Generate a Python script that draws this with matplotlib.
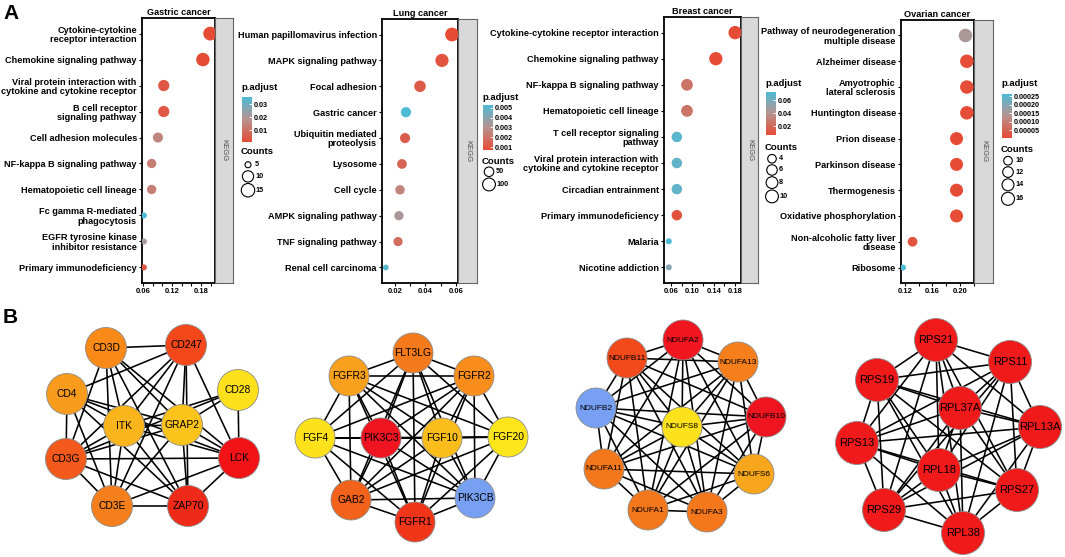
import numpy as np
import matplotlib
matplotlib.use('Agg')
import matplotlib.pyplot as plt
from matplotlib.colors import LinearSegmentedColormap, Normalize
from matplotlib.cm import ScalarMappable
from matplotlib.patches import Circle
from itertools import combinations

plt.rcParams['font.family'] = ['Liberation Sans', 'DejaVu Sans']
W, H = 1065, 557
PT = 0.72  # points per pixel at dpi 100

# ---------------- A: KEGG enrichment data ----------------
gastric_terms = ['Cytokine-cytokine\nreceptor interaction', 'Chemokine signaling pathway',
                 'Viral protein interaction with\ncytokine and cytokine receptor',
                 'B cell receptor\nsignaling pathway', 'Cell adhesion molecules',
                 'NF-kappa B signaling pathway', 'Hematopoietic cell lineage',
                 'Fc gamma R-mediated\nphagocytosis', 'EGFR tyrosine kinase\ninhibitor resistance',
                 'Primary immunodeficiency']
gastric_ratio = [0.199, 0.184, 0.103, 0.103, 0.091, 0.078, 0.078, 0.062, 0.062, 0.062]
gastric_count = [16, 15, 10, 10, 8, 7, 7, 5, 5, 5]
gastric_padj = [0.0008, 0.0012, 0.004, 0.004, 0.015, 0.013, 0.013, 0.0354, 0.021, 0.004]

lung_terms = ['Human papillomavirus infection', 'MAPK signaling pathway', 'Focal adhesion',
              'Gastric cancer', 'Ubiquitin mediated\nproteolysis', 'Lysosome', 'Cell cycle',
              'AMPK signaling pathway', 'TNF signaling pathway', 'Renal cell carcinoma']
lung_ratio = [0.0574, 0.0508, 0.0364, 0.0272, 0.0266, 0.0246, 0.0233, 0.0226, 0.0220, 0.0140]
lung_count = [120, 107, 76, 57, 56, 52, 49, 47, 46, 30]
lung_padj = [0.0007, 0.0010, 0.0012, 0.0053, 0.0013, 0.0015, 0.0025, 0.0033, 0.0018, 0.0050]

breast_terms = ['Cytokine-cytokine receptor interaction', 'Chemokine signaling pathway',
                'NF-kappa B signaling pathway', 'Hematopoietic cell lineage',
                'T cell receptor signaling\npathway',
                'Viral protein interaction with\ncytokine and cytokine receptor',
                'Circadian entrainment', 'Primary immunodeficiency', 'Malaria', 'Nicotine addiction']
breast_ratio = [0.180, 0.144, 0.090, 0.090, 0.071, 0.071, 0.071, 0.071, 0.056, 0.056]
breast_count = [11, 11, 8, 8, 6, 6, 6, 6, 3, 3]
breast_padj = [0.0062, 0.007, 0.025, 0.025, 0.068, 0.066, 0.066, 0.009, 0.0723, 0.055]

ovarian_terms = ['Pathway of neurodegeneration\nmultiple disease', 'Alzheimer disease',
                 'Amyotrophic\nlateral sclerosis', 'Huntington disease', 'Prion disease',
                 'Parkinson disease', 'Thermogenesis', 'Oxidative phosphorylation',
                 'Non-alcoholic fatty liver\ndisease', 'Ribosome']
ovarian_ratio = [0.208, 0.210, 0.210, 0.210, 0.195, 0.195, 0.195, 0.195, 0.131, 0.117]
ovarian_count = [17, 17, 17, 17, 16, 16, 16, 16, 11, 9]
ovarian_padj = [0.00015, 0.00001, 0.00001, 0.00001, 0.000005, 0.000006, 0.000008, 0.000007,
                0.00002, 0.000262]

# ---------------- B: PPI hub networks ----------------
gastric_nodes = ['CD3D', 'CD247', 'CD4', 'CD28', 'ITK', 'GRAP2', 'CD3G', 'LCK', 'CD3E', 'ZAP70']
gastric_node_col = ['#F98A17', '#F4471A', '#F99B1C', '#FCE01B', '#FBB51C', '#FCC31A',
                    '#F2591A', '#F21317', '#F47F1B', '#F02A19']
gastric_missing = [('CD3D', 'CD4'), ('CD3D', 'CD28'), ('CD4', 'CD28'), ('CD247', 'CD28'),
                   ('CD28', 'CD3E'), ('CD28', 'ZAP70')]

lung_nodes = ['FLT3LG', 'FGFR3', 'FGFR2', 'FGF4', 'PIK3C3', 'FGF10', 'FGF20', 'GAB2', 'PIK3CB', 'FGFR1']
lung_node_col = ['#F47A1B', '#F9A11C', '#F98D1B', '#FCE11B', '#EE1420', '#FBBD1B',
                 '#FCE51B', '#F2621A', '#77A0F2', '#F03519']
lung_missing = []

breast_nodes = ['NDUFA2', 'NDUFB11', 'NDUFA13', 'NDUFB2', 'NDUFB10', 'NDUFS8', 'NDUFA11',
                'NDUFS6', 'NDUFA1', 'NDUFA3']
breast_node_col = ['#EF1620', '#F24A1A', '#F67F1C', '#77A0F2', '#EE1520', '#FCE11B',
                   '#F4781B', '#F8A61C', '#F4781B', '#F4781B']
breast_missing = []

ovarian_nodes = ['RPS21', 'RPS11', 'RPS19', 'RPL37A', 'RPL13A', 'RPS13', 'RPL18', 'RPS27',
                 'RPS29', 'RPL38']
ovarian_node_col = ['#F01A1A'] * 10
ovarian_missing = []

# node layout (pixel positions of the figure, Cytoscape-style arrangement)
layout = {
    'gastric': [(106, 348), (186, 345), (67, 394), (238, 390), (124, 426), (182, 425),
                (66, 459), (239, 458), (112, 506), (188, 506)],
    'lung': [(413, 353), (349, 376), (474, 376), (315, 438), (381, 438), (442, 438),
             (508, 437), (351, 500), (475, 498), (415, 522)],
    'breast': [(683, 340), (627, 358), (738, 362), (596, 408), (766, 417), (682, 427),
               (604, 469), (754, 474), (648, 510), (707, 512)],
    'ovarian': [(936, 340), (1010, 362), (877, 380), (960, 408), (1040, 427), (857, 443),
                (939, 470), (1017, 490), (884, 510), (963, 533)],
}

cmap = LinearSegmentedColormap.from_list('padj', ['#E64B35', '#B8928E', '#4DBBD5'])

fig = plt.figure(figsize=(W / 100, H / 100), dpi=100)
ov = fig.add_axes([0, 0, 1, 1])
ov.set_xlim(0, W); ov.set_ylim(H, 0); ov.axis('off')


def px_axes(x0, y0, x1, y1):
    return fig.add_axes([x0 / W, 1 - y1 / H, (x1 - x0) / W, (y1 - y0) / H])


def diam(c, counts, drange):
    c = np.asarray(c, float)
    lo, hi = min(counts), max(counts)
    return drange[0] + (drange[1] - drange[0]) * np.sqrt(np.clip((c - lo) / (hi - lo), 0, 1))


def enrich_panel(box, strip_w, title, terms, ratio, count, padj, xlim, xticks, xlab,
                 plim, pbreaks, pfmt, cbreaks, drange, leg):
    x0, y0, x1, y1 = box
    ax = px_axes(x0, y0, x1, y1)
    n = len(terms)
    y = np.arange(n)[::-1]
    norm = Normalize(*plim)
    d = diam(count, count, drange)
    ax.scatter(ratio, y, s=(d * PT) ** 2, c=padj, cmap=cmap, norm=norm, linewidths=0, zorder=3)
    ax.set_xlim(*xlim)
    ax.set_ylim(-0.6, n - 0.4)
    ax.set_yticks(y)
    ax.set_yticklabels(terms, fontsize=6.6, fontweight='bold', linespacing=1.05)
    ax.set_xticks(xticks)
    ax.set_xticklabels([f'{t:.2f}' if t_l else '' for t, t_l in zip(xticks, xlab)],
                       fontsize=5.5, fontweight='bold')
    ax.tick_params(length=2.2, width=0.8, pad=1.5)
    for s in ax.spines.values():
        s.set_linewidth(1.3)
    ax.set_title(title, fontsize=6.6, fontweight='bold', pad=2)

    sx = px_axes(x1, y0, x1 + strip_w, y1)
    sx.set_facecolor('#D9D9D9')
    sx.set_xticks([]); sx.set_yticks([])
    for s in sx.spines.values():
        s.set_color('#666666'); s.set_linewidth(0.8)
    sx.text(0.5, 0.5, 'KEGG', rotation=-90, ha='center', va='center', fontsize=5.5,
            color='#4D4D4D', transform=sx.transAxes)

    # legend
    lx, pt_y, cb0, cb1, ct_y, row0 = leg
    ov.text(lx, pt_y, 'p.adjust', fontsize=6.8, fontweight='bold', va='center', ha='left')
    cax = px_axes(lx + 1, cb0, lx + 11, cb1)
    cb = fig.colorbar(ScalarMappable(norm=norm, cmap=cmap), cax=cax, ticks=pbreaks)
    cb.outline.set_visible(False)
    cax.set_yticklabels([pfmt.format(b) for b in pbreaks], fontweight='bold')
    cax.tick_params(length=2, width=0.6, color='white', direction='in', pad=1.5, labelsize=5.2)
    ov.text(lx, ct_y, 'Counts', fontsize=6.8, fontweight='bold', va='center', ha='left')
    dl = diam(cbreaks, count, drange)
    yy = row0 - max(dl[0], 9) / 2
    for b, dd in zip(cbreaks, dl):
        h = max(dd, 9) + 1.5
        yc = yy + h / 2
        ov.scatter(lx + 7, yc, s=(dd * PT) ** 2, facecolors='none', edgecolors='black',
                   linewidths=0.8, zorder=5)
        ov.text(lx + 14, yc, str(b), fontsize=5.2, fontweight='bold', va='center', ha='left')
        yy += h


enrich_panel((142, 18, 215, 283), 18, 'Gastric cancer', gastric_terms, gastric_ratio,
             gastric_count, gastric_padj, (0.058, 0.209), np.arange(0.06, 0.201, 0.02),
             [1, 0, 0, 1, 0, 0, 1, 0], (0.0008, 0.0354), [0.01, 0.02, 0.03], '{:.2f}',
             [5, 10, 15], (6.0, 13.8), (241, 88, 97, 142, 152, 164))
enrich_panel((382, 19, 458, 283), 19, 'Lung cancer', lung_terms, lung_ratio, lung_count,
             lung_padj, (0.0115, 0.0613), np.arange(0.02, 0.0601, 0.01), [1, 0, 1, 0, 1],
             (0.0007, 0.0053), [0.001, 0.002, 0.003, 0.004, 0.005], '{:.3f}', [50, 100],
             (5.8, 13.8), (482, 97, 105, 150, 161, 171))
enrich_panel((664, 17, 741, 283), 17, 'Breast cancer', breast_terms, breast_ratio,
             breast_count, breast_padj, (0.047, 0.191), np.arange(0.06, 0.181, 0.02),
             [1, 0, 1, 0, 1, 0, 1], (0.0062, 0.0723), [0.02, 0.04, 0.06], '{:.2f}',
             [4, 6, 8, 10], (6.0, 13.3), (765, 83, 92, 135, 148, 158))
enrich_panel((901, 20, 974, 283), 19, 'Ovarian cancer', ovarian_terms, ovarian_ratio,
             ovarian_count, ovarian_padj, (0.1142, 0.2204), np.arange(0.12, 0.221, 0.02),
             [1, 0, 1, 0, 1, 0], (0.000005, 0.000262),
             [0.00005, 0.0001, 0.00015, 0.0002, 0.00025], '{:.5f}', [10, 12, 14, 16],
             (6.0, 13.5), (1001, 84, 94, 138, 150, 160))


# ---------------- B: networks ----------------
def network(key, nodes, colors, missing, r, fs):
    pos = dict(zip(nodes, layout[key]))
    miss = {frozenset(p) for p in missing}
    for a, b in combinations(nodes, 2):
        if frozenset((a, b)) in miss:
            continue
        ov.plot([pos[a][0], pos[b][0]], [pos[a][1], pos[b][1]], color='black', lw=1.15,
                zorder=1, solid_capstyle='butt')
    for nm, col in zip(nodes, colors):
        ov.add_patch(Circle(pos[nm], r, facecolor=col, edgecolor='#8C8C8C', lw=0.6, zorder=2))
        ov.text(pos[nm][0], pos[nm][1], nm, ha='center', va='center', fontsize=fs, zorder=3)


network('gastric', gastric_nodes, gastric_node_col, gastric_missing, 20.5, 7.4)
network('lung', lung_nodes, lung_node_col, lung_missing, 20, 7.4)
network('breast', breast_nodes, breast_node_col, breast_missing, 20, 6.0)
network('ovarian', ovarian_nodes, ovarian_node_col, ovarian_missing, 21.5, 8.0)

ov.text(3, 19, 'A', fontsize=15, fontweight='bold')
ov.text(3, 323, 'B', fontsize=15, fontweight='bold')

fig.savefig('out.png', dpi=100)
